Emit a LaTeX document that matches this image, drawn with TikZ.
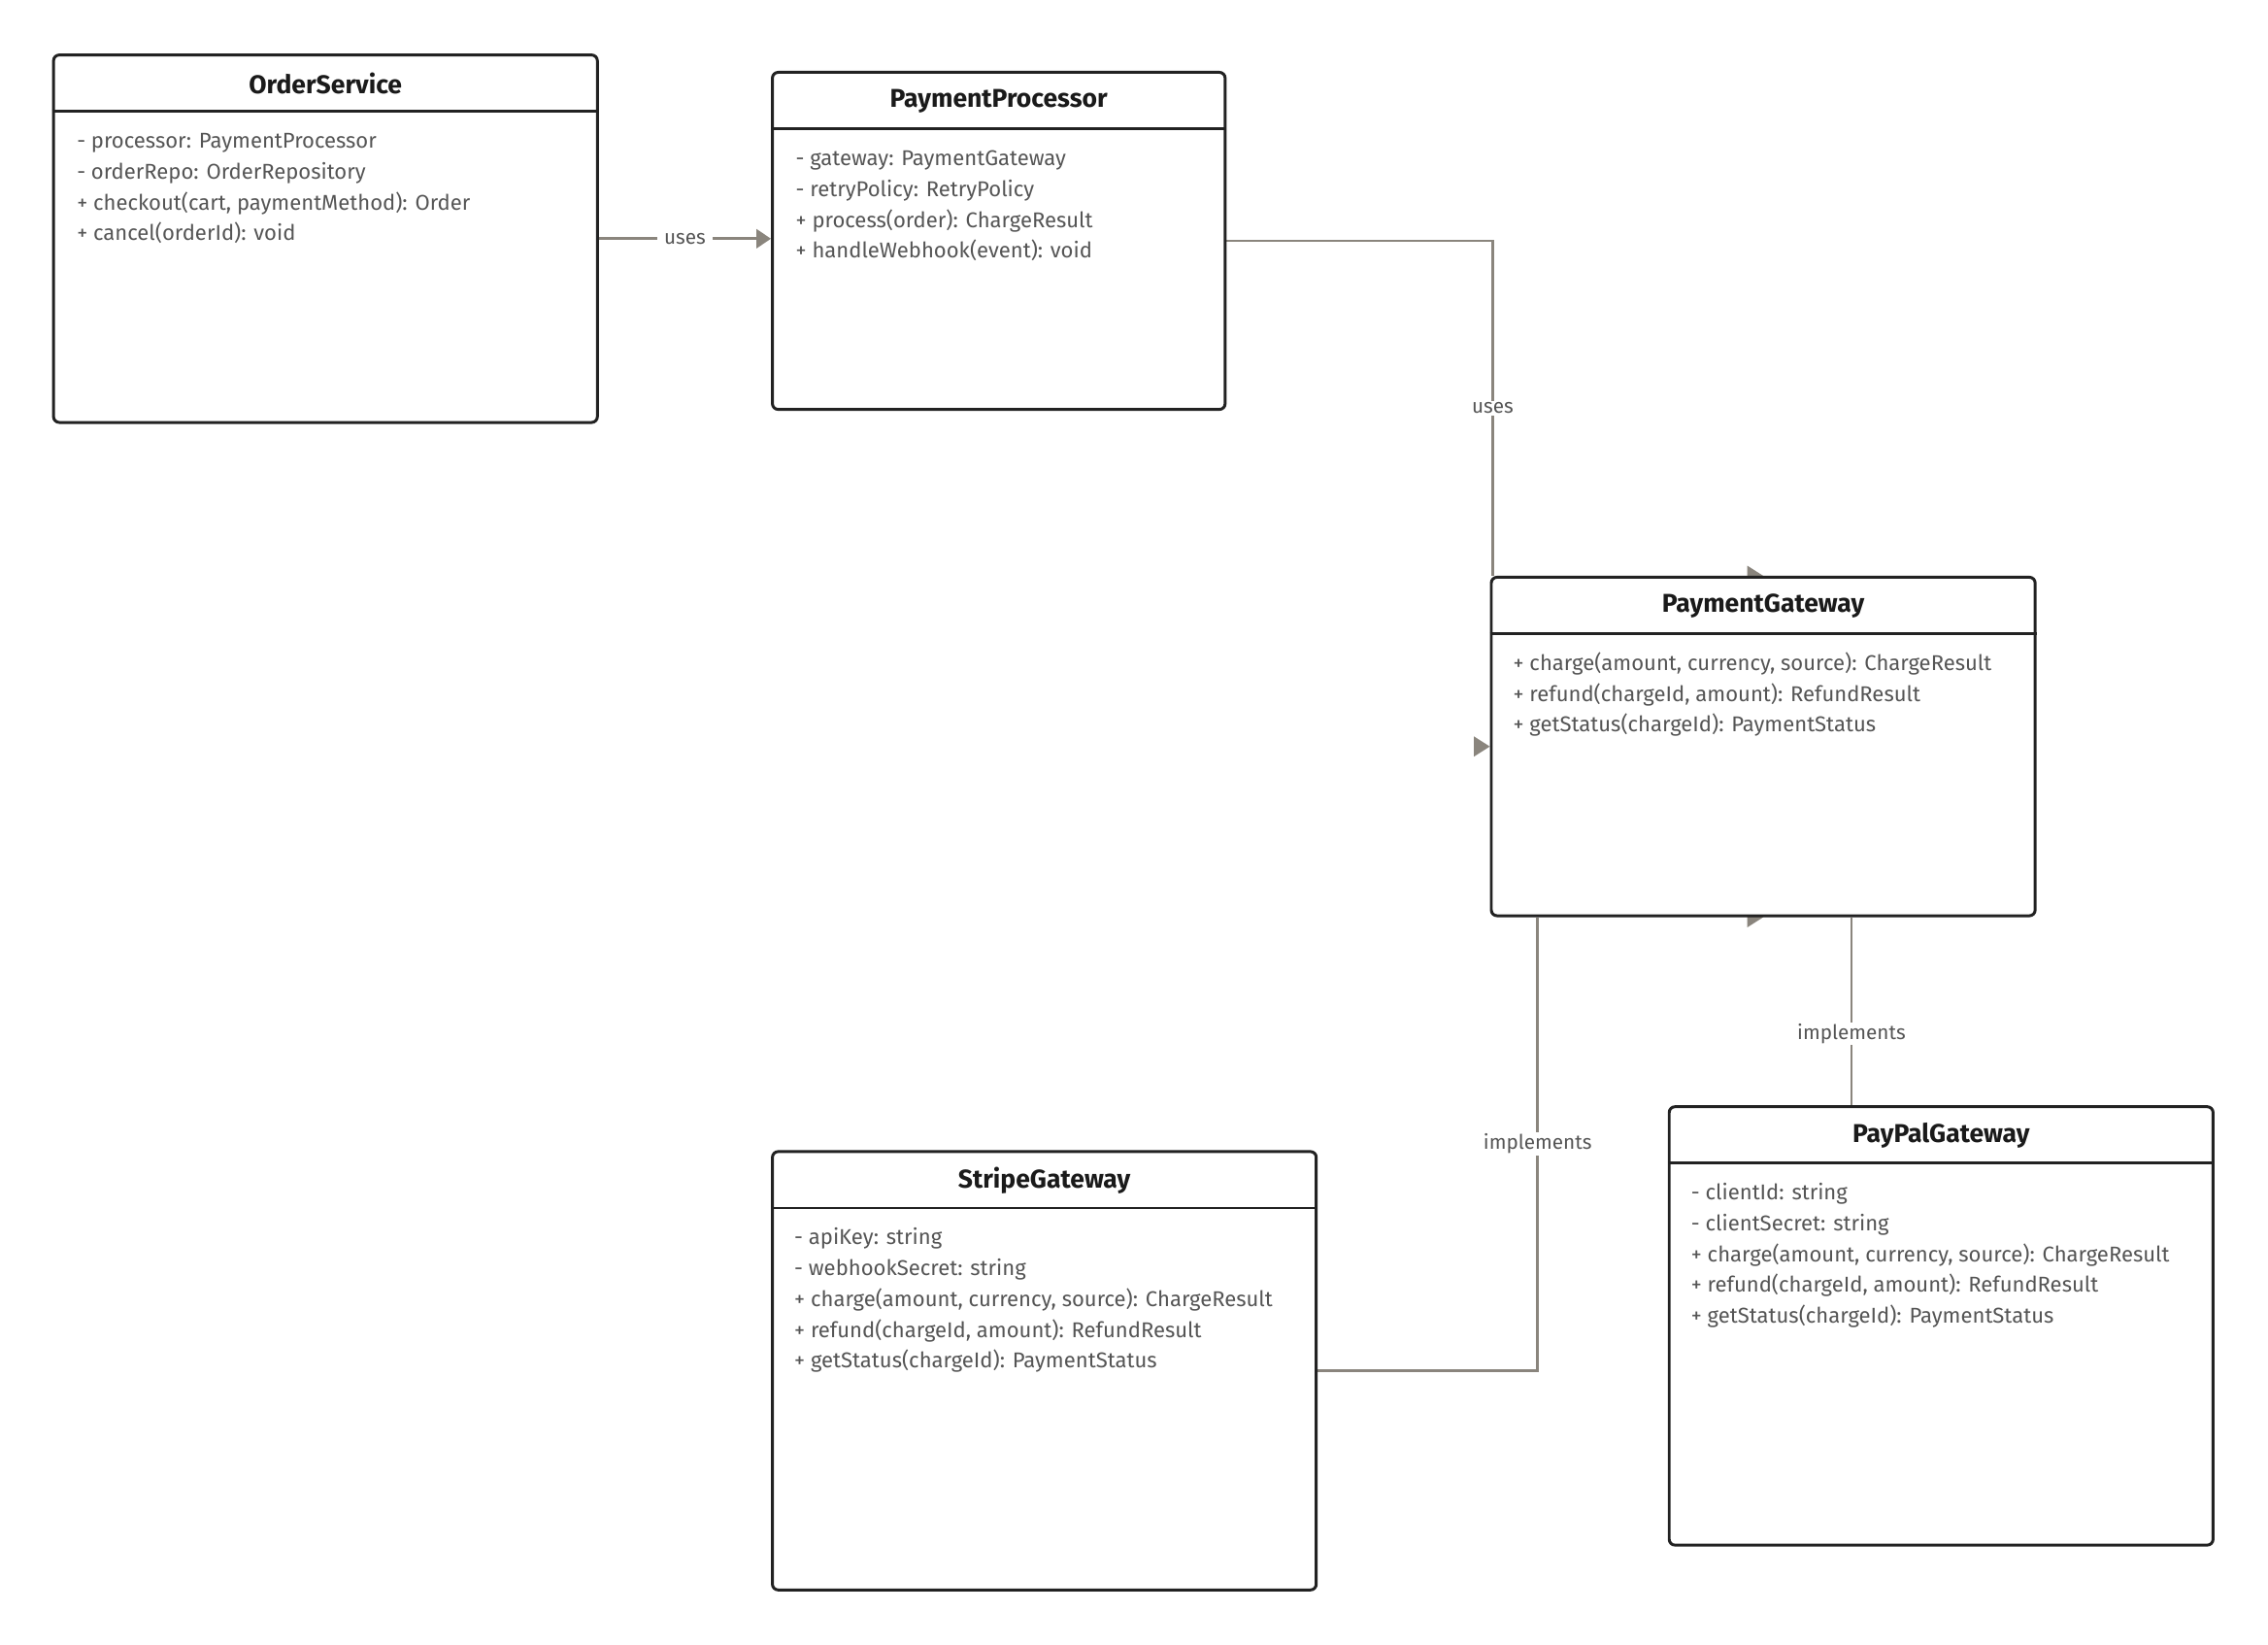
\documentclass[tikz,border=0pt]{standalone}
\usepackage{fontspec}
\setmainfont{Fira Sans}
\usetikzlibrary{arrows.meta,calc}

\definecolor{boxline}{HTML}{222222}
\definecolor{titletext}{HTML}{1A1A1A}
\definecolor{rowgray}{HTML}{555555}
\definecolor{linkgray}{HTML}{8A857D}

\pgfdeclarelayer{bg}
\pgfsetlayers{bg,main}

\tikzset{
  classbox/.style={draw=boxline, line width=2pt, rounded corners=4pt, fill=white},
  classtitle/.style={inner sep=0pt, font=\fontsize{17.8}{21}\selectfont\bfseries, text=titletext},
  rowtext/.style={anchor=west, inner sep=0pt, font=\fontsize{14.8}{18}\selectfont, text=rowgray, text height=10pt, text depth=3pt},
  sepline/.style={draw=boxline, line width=1.8pt},
  link/.style={draw=linkgray, line width=1.8pt},
  headtip/.style={fill=linkgray},
  midlabel/.style={fill=white, inner xsep=5pt, inner ysep=1pt, font=\fontsize{13.9}{16}\selectfont, text=rowgray},
}

\begin{document}
\begin{tikzpicture}[x=1pt, y=-1pt]
  \useasboundingbox (0,0) rectangle (1568,1137);

  % class boxes
  \node[classbox, minimum width=376, minimum height=254] (order)  at (225,165)    {};
  \node[classbox, minimum width=313, minimum height=233] (proc)   at (690.5,166.5) {};
  \node[classbox, minimum width=376, minimum height=234] (gate)   at (1219,516)   {};
  \node[classbox, minimum width=376, minimum height=303] (stripe) at (722,947.5)  {};
  \node[classbox, minimum width=376, minimum height=303] (paypal) at (1342,916.5) {};

  % titles
  \node[classtitle] (order-title)  at ($(order.north)+(0,21)$)  {OrderService};
  \node[classtitle] (proc-title)   at ($(proc.north)+(0,21)$)   {PaymentProcessor};
  \node[classtitle] (gate-title)   at ($(gate.north)+(0,21)$)   {PaymentGateway};
  \node[classtitle] (stripe-title) at ($(stripe.north)+(0,21)$) {StripeGateway};
  \node[classtitle] (paypal-title) at ($(paypal.north)+(0,21)$) {PayPalGateway};

  % separators
  \draw[sepline] ($(order.north west)+(0,40)$)  -- ($(order.north east)+(0,40)$);
  \draw[sepline] ($(proc.north west)+(0,40)$)   -- ($(proc.north east)+(0,40)$);
  \draw[sepline] ($(gate.north west)+(0,40)$)   -- ($(gate.north east)+(0,40)$);
  \draw[sepline] ($(stripe.north west)+(0,40)$) -- ($(stripe.north east)+(0,40)$);
  \draw[sepline] ($(paypal.north west)+(0,40)$) -- ($(paypal.north east)+(0,40)$);

  % members
  \foreach \t [count=\i] in {- processor: PaymentProcessor, - orderRepo: OrderRepository,
      {+ checkout(cart, paymentMethod): Order}, + cancel(orderId): void}
    \node[rowtext] (order-r\i) at ($(order.north west)+(17,62+21.3*\i-21.3)$) {\t};
  \foreach \t [count=\i] in {- gateway: PaymentGateway, - retryPolicy: RetryPolicy,
      + process(order): ChargeResult, + handleWebhook(event): void}
    \node[rowtext] (proc-r\i) at ($(proc.north west)+(17,62+21.3*\i-21.3)$) {\t};
  \foreach \t [count=\i] in {{+ charge(amount, currency, source): ChargeResult},
      {+ refund(chargeId, amount): RefundResult}, + getStatus(chargeId): PaymentStatus}
    \node[rowtext] (gate-r\i) at ($(gate.north west)+(16,62+21.3*\i-21.3)$) {\t};
  \foreach \t [count=\i] in {- apiKey: string, - webhookSecret: string,
      {+ charge(amount, currency, source): ChargeResult},
      {+ refund(chargeId, amount): RefundResult}, + getStatus(chargeId): PaymentStatus}
    \node[rowtext] (stripe-r\i) at ($(stripe.north west)+(16,62+21.3*\i-21.3)$) {\t};
  \foreach \t [count=\i] in {- clientId: string, - clientSecret: string,
      {+ charge(amount, currency, source): ChargeResult},
      {+ refund(chargeId, amount): RefundResult}, + getStatus(chargeId): PaymentStatus}
    \node[rowtext] (paypal-r\i) at ($(paypal.north west)+(16,62+21.3*\i-21.3)$) {\t};

  % relations
  \begin{pgfonlayer}{bg}
    \draw[link, -{Triangle[length=10pt,width=13pt]}] (order.east) -- (order.east -| proc.west)
      node[midlabel, pos=0.5] (uses1) {uses};
    \draw[link] (proc.east) -| ([xshift=2pt]gate.north west)
      node[midlabel, pos=0.75] (uses2) {uses};
    \draw[link] (stripe.east) -| ([xshift=33pt]gate.south west)
      node[midlabel, pos=0.75] (impl1) {implements};
    \draw[link] ([xshift=-62pt]paypal.north) -- ([xshift=-62pt]paypal.north |- gate.south)
      node[midlabel, pos=0.38] (impl2) {implements};
    % heads
    \fill[headtip] ($(gate.north)+(-11,-7)$) -- (gate.north) -- ($(gate.north)+(-11,7)$) -- cycle;
    \fill[headtip] ($(gate.west)+(-11,-7)$)  -- (gate.west)  -- ($(gate.west)+(-11,7)$)  -- cycle;
    \fill[headtip] ($(gate.south)+(-11,-7)$) -- (gate.south) -- ($(gate.south)+(-11,7)$) -- cycle;
  \end{pgfonlayer}
\end{tikzpicture}
\end{document}
